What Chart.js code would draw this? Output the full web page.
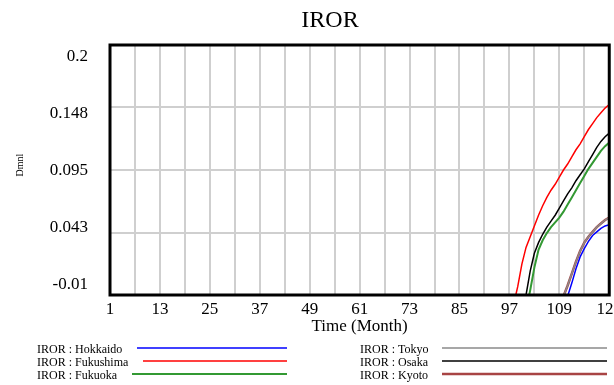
<!DOCTYPE html>
<html>
<head>
<meta charset="utf-8">
<title>IROR</title>
<script src="https://cdn.jsdelivr.net/npm/chart.js@4.4.0/dist/chart.umd.min.js"></script>
<style>
html, body { margin: 0; padding: 0; overflow: hidden; background: #fff; }
canvas { display: block; }
</style>
</head>
<body>
<!-- canvas is a bit wider than the window so the last x label gets cut like in the original -->
<canvas id="iror" width="626" height="385"></canvas>
<script>
"use strict";

///////////////// DATA //////////////////////////////
const monthMin = 1;
const monthMax = 121;
const xTickLabels = ['1', '13', '25', '37', '49', '61', '73', '85', '97', '109', '121'];
const yTickLabels = ['-0.01', '0.043', '0.095', '0.148', '0.2'];
const yMin = -0.01;
const yMax = 0.2;

// every region is flat (below the axis) until late, so keep first month + monthly values
const hokkaidoStart = 111;
const hokkaido = [-0.011, 0.000, 0.012, 0.022, 0.029, 0.035, 0.040, 0.043, 0.046, 0.048, 0.049];

const fukushimaStart = 98;
const fukushima = [-0.018, -0.003, 0.016, 0.030, 0.039, 0.048, 0.057, 0.065, 0.072, 0.078, 0.083, 0.089,
    0.095, 0.100, 0.106, 0.112, 0.117, 0.123, 0.129, 0.134, 0.139, 0.143, 0.147, 0.150];

const fukuokaStart = 101;
const fukuoka = [-0.023, -0.006, 0.013, 0.028, 0.036, 0.042, 0.047, 0.051, 0.055, 0.060, 0.066,
    0.072, 0.078, 0.084, 0.090, 0.096, 0.101, 0.106, 0.111, 0.115, 0.118];

const tokyoStart = 109;
const tokyo = [-0.020, -0.011, -0.002, 0.008, 0.018, 0.027, 0.034, 0.039, 0.043, 0.047, 0.050, 0.053, 0.055];

const osakaStart = 100;
const osaka = [-0.030, -0.010, 0.010, 0.025, 0.034, 0.041, 0.047, 0.052, 0.057, 0.063, 0.069,
    0.075, 0.080, 0.086, 0.091, 0.096, 0.102, 0.108, 0.114, 0.119, 0.123, 0.126];

// Kyoto sits right under Tokyo, can't tell them apart in the picture
const kyotoStart = 109;
const kyoto = [-0.020, -0.011, -0.002, 0.008, 0.018, 0.027, 0.034, 0.039, 0.043, 0.047, 0.050, 0.053, 0.055];

// turn start month + values into {x, y} points for the linear x axis
function toPoints(start, values) {
    return values.map((v, i) => ({ x: start + i, y: v }));
}

const serif = '"Liberation Serif", "Times New Roman", serif';

///////////////// EXTRA DRAWING (frame, title, y labels, legend) //////////////////////////////
const irorDecor = {
    id: 'irorDecor',
    afterDraw(chart) {
        const { ctx, chartArea } = chart;
        ctx.save();

        // thick black frame round the plot
        ctx.strokeStyle = '#000';
        ctx.lineWidth = 3;
        ctx.strokeRect(chartArea.left, chartArea.top,
            chartArea.right - chartArea.left, chartArea.bottom - chartArea.top);

        // title
        ctx.fillStyle = '#000';
        ctx.font = '24px ' + serif;
        ctx.textAlign = 'center';
        ctx.textBaseline = 'alphabetic';
        ctx.fillText('IROR', 330, 27);

        // y tick labels, squeezed inside the frame height like Vensim does
        ctx.font = '17px ' + serif;
        ctx.textAlign = 'right';
        ctx.textBaseline = 'middle';
        const firstY = chartArea.bottom - 10;
        const lastY = chartArea.top + 12;
        yTickLabels.forEach((label, i) => {
            const y = firstY + (lastY - firstY) * i / (yTickLabels.length - 1);
            ctx.fillText(label, chartArea.left - 22, y);
        });

        // y axis unit
        ctx.font = '10px ' + serif;
        ctx.textAlign = 'center';
        ctx.translate(20, (chartArea.top + chartArea.bottom) / 2 - 5);
        ctx.rotate(-Math.PI / 2);
        ctx.fillText('Dmnl', 0, 0);
        ctx.setTransform(1, 0, 0, 1, 0, 0);

        // legend: two columns of three
        const rowsY = [348, 361, 374];
        const lineStart = [137, 143, 132, 442, 442, 442];
        ctx.font = '12px ' + serif;
        ctx.textAlign = 'left';
        chart.data.datasets.forEach((ds, i) => {
            const col = i < 3 ? 0 : 1;
            const y = rowsY[i % 3];
            const textX = col === 0 ? 37 : 360;
            const lineEnd = col === 0 ? 287 : 607;
            ctx.fillStyle = '#000';
            ctx.fillText(ds.label, textX, y + 1.5);
            ctx.strokeStyle = ds.borderColor;
            ctx.lineWidth = ds.borderWidth;
            ctx.beginPath();
            ctx.moveTo(lineStart[i], y);
            ctx.lineTo(lineEnd, y);
            ctx.stroke();
        });

        ctx.restore();
    }
};

///////////////// CHART //////////////////////////////
new Chart(document.querySelector('#iror'), {
    type: 'line',
    data: {
        datasets: [
            { label: 'IROR : Hokkaido', data: toPoints(hokkaidoStart, hokkaido), borderColor: '#0000ff', borderWidth: 1.5 },
            { label: 'IROR : Fukushima', data: toPoints(fukushimaStart, fukushima), borderColor: '#ff0000', borderWidth: 1.5 },
            { label: 'IROR : Fukuoka', data: toPoints(fukuokaStart, fukuoka), borderColor: '#339933', borderWidth: 2 },
            { label: 'IROR : Tokyo', data: toPoints(tokyoStart, tokyo), borderColor: '#8a8a8a', borderWidth: 1.5 },
            { label: 'IROR : Osaka', data: toPoints(osakaStart, osaka), borderColor: '#000000', borderWidth: 1.5 },
            { label: 'IROR : Kyoto', data: toPoints(kyotoStart, kyoto), borderColor: '#a84444', borderWidth: 2.5 }
        ]
    },
    options: {
        responsive: false,
        animation: false,
        events: [],
        elements: {
            point: { radius: 0 },
            line: { tension: 0, fill: false }
        },
        layout: {
            padding: { top: 45, right: 0, bottom: 44, left: 0 }
        },
        plugins: {
            legend: { display: false },
            title: { display: false },
            tooltip: { enabled: false }
        },
        scales: {
            x: {
                type: 'linear',
                min: monthMin,
                max: monthMax,
                border: { display: false },
                grid: { color: '#cfcfcf', lineWidth: 2, drawTicks: false },
                ticks: {
                    stepSize: 6,
                    autoSkip: false,
                    maxRotation: 0,
                    padding: 4,
                    color: '#000',
                    font: { family: serif, size: 17 },
                    callback: (value) => xTickLabels.includes(String(value)) ? String(value) : ''
                },
                title: {
                    display: true,
                    text: 'Time (Month)',
                    color: '#000',
                    font: { family: serif, size: 17 },
                    padding: { top: 0, bottom: 4 }
                },
                afterFit: (scale) => { scale.height = 46; }
            },
            y: {
                min: yMin,
                max: yMax,
                border: { display: false },
                grid: { color: '#cfcfcf', lineWidth: 2, drawTicks: false },
                ticks: { count: yTickLabels.length, display: false },
                afterFit: (scale) => { scale.width = 110; }
            }
        }
    },
    plugins: [irorDecor]
});
</script>
</body>
</html>
